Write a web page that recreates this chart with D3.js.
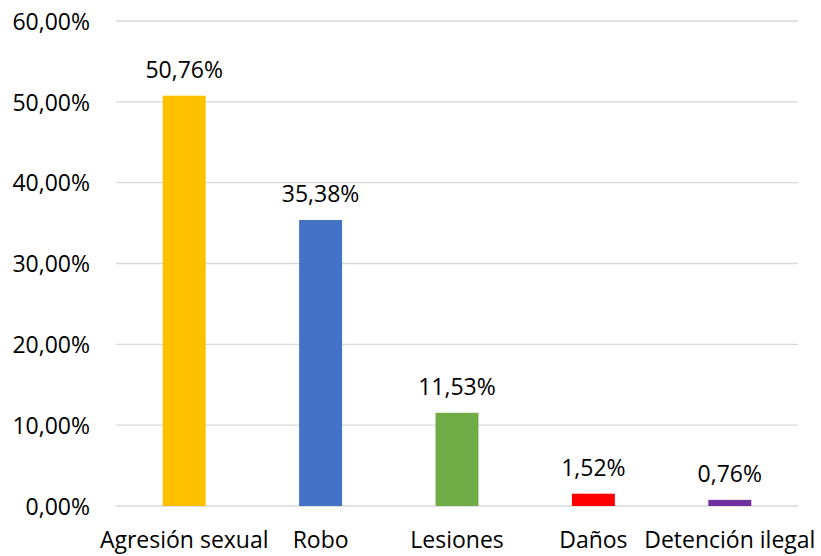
<!DOCTYPE html>
<html>
<head>
<meta charset="utf-8">
<script src="https://cdn.jsdelivr.net/npm/d3@7"></script>
<style>
  html, body { margin: 0; padding: 0; background: #fff; }
  svg text { font-family: "Open Sans", sans-serif; fill: #000; }
</style>
</head>
<body>
<svg id="chart" width="821" height="556"></svg>
<script>
// Share of reported offences by type
const categories = ["Agresión sexual", "Robo", "Lesiones", "Daños", "Detención ilegal"];
const values = [50.76, 35.38, 11.53, 1.52, 0.76];
const colors = ["#FFC000", "#4472C4", "#70AD47", "#FF0000", "#7030A0"];
const yTicks = [0, 10, 20, 30, 40, 50, 60];

const fmt = v => v.toFixed(2).replace(".", ",") + "%";

const svg = d3.select("#chart");
const margin = { top: 21, right: 23, bottom: 50, left: 116 };
const width = 821, height = 556;
const fontSize = 23;

const x = d3.scaleBand()
  .domain(categories)
  .range([margin.left, width - margin.right])
  .paddingInner(0.685)
  .paddingOuter(0.3425);

const y = d3.scaleLinear()
  .domain([0, 60])
  .range([height - margin.bottom, margin.top]);

// Horizontal gridlines
svg.append("g")
  .selectAll("line")
  .data(yTicks)
  .join("line")
  .attr("x1", margin.left)
  .attr("x2", width - margin.right)
  .attr("y1", d => y(d))
  .attr("y2", d => y(d))
  .attr("stroke", "#D9D9D9")
  .attr("stroke-width", 1.3);

// Y axis labels
const yAxis = svg.append("g")
  .attr("transform", `translate(${margin.left - 26},0)`)
  .call(d3.axisLeft(y).tickValues(yTicks).tickFormat(fmt).tickSize(0).tickPadding(0));
yAxis.select(".domain").remove();
yAxis.selectAll("text")
  .attr("font-size", fontSize)
  .attr("font-family", "Open Sans, sans-serif")
  .attr("fill", "#222")
  .attr("dy", "0.36em");

// Bars
svg.append("g")
  .selectAll("rect")
  .data(values)
  .join("rect")
  .attr("x", (d, i) => x(categories[i]))
  .attr("width", x.bandwidth())
  .attr("y", d => y(d))
  .attr("height", d => y(0) - y(d))
  .attr("fill", (d, i) => colors[i]);

// Value labels
svg.append("g")
  .selectAll("text")
  .data(values)
  .join("text")
  .attr("x", (d, i) => x(categories[i]) + x.bandwidth() / 2)
  .attr("y", d => y(d) - 18)
  .attr("text-anchor", "middle")
  .attr("font-size", fontSize)
  .text(fmt);

// Category labels
const xAxis = svg.append("g")
  .attr("transform", `translate(0,${y(0)})`)
  .call(d3.axisBottom(x).tickSize(0).tickPadding(0));
xAxis.select(".domain").remove();
xAxis.selectAll("text")
  .attr("font-size", fontSize)
  .attr("font-family", "Open Sans, sans-serif")
  .attr("fill", "#222")
  .attr("dy", null)
  .attr("y", 42);
</script>
</body>
</html>
